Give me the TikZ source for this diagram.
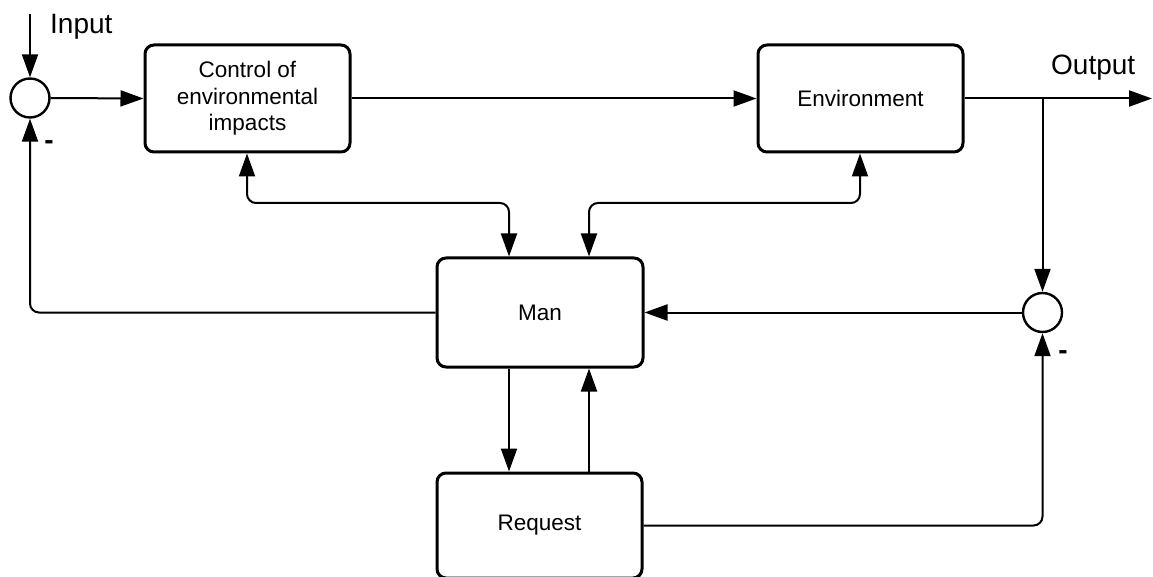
\documentclass[tikz,border=0pt]{standalone}
\usepackage{fontspec}
\setmainfont{Liberation Sans}
\usetikzlibrary{arrows.meta}
\begin{document}
\begin{tikzpicture}[x=1pt,y=-1pt,
  blk/.style={draw,line width=3pt,rounded corners=9pt,minimum width=205pt,minimum height=107pt,align=center,inner sep=0pt,font=\fontsize{22.5}{26.5}\selectfont},
  sumc/.style={draw,circle,line width=2.4pt,minimum size=39pt,inner sep=0pt},
  conn/.style={line width=2pt,rounded corners=9pt},
  arr/.style={conn,-{Triangle[length=23pt,width=16pt]}},
  biarr/.style={conn,{Triangle[length=23pt,width=16pt]}-{Triangle[length=23pt,width=16pt]}},
  lbl/.style={font=\fontsize{28}{30}\selectfont,inner sep=0pt},
  mlbl/.style={font=\bfseries\fontsize{28}{30}\selectfont,inner sep=0pt}]
\clip (0,0) rectangle (1153,577);
\fill[white] (0,0) rectangle (1153,577);
% nodes
\node[sumc] (sumL) at (30,98) {};
\node[sumc] (sumR) at (1042.5,312.5) {};
\node[blk] (ctrl) at (247.5,98.5) {Control of\\environmental\\impacts};
\node[blk] (env) at (860.5,98.5) {Environment};
\node[blk,minimum width=206pt,minimum height=109pt] (man) at (540,312.5) {Man};
\node[blk,minimum height=105pt] (req) at (539.5,525.5) {Request};
% labels
\node[lbl,anchor=base west] (input) at (50,34) {Input};
\node[lbl,anchor=base west] (output) at (1051,75) {Output};
\node[mlbl] (minusL) at (49,145) {-};
\node[mlbl] (minusR) at (1063,355) {-};
% free ends
\coordinate (inTop) at (30,14);
\coordinate (outEnd) at (1152,98.5);
\coordinate (branch) at (1042.5,98.5);
% connectors
\draw[arr] (inTop) -- (sumL.north);
\draw[arr] (sumL.east) -- (ctrl.west);
\draw[arr] (ctrl.east) -- (env.west);
\draw[arr] (env.east) -- (outEnd);
\draw[arr] (branch) -- (sumR.north);
\draw[arr] (sumR.west) -- (man.east);
\draw[arr] (man.west) -| (sumL.south);
\draw[biarr] (ctrl.south -| 247,0) |- (509,203) -- (man.north -| 509,0);
\draw[biarr] (env.south -| 860,0) |- (589,203) -- (man.north -| 589,0);
\draw[arr] (man.south -| 509,0) -- (req.north -| 509,0);
\draw[arr] (req.north -| 589,0) -- (man.south -| 589,0);
\draw[arr] (req.east) -| (sumR.south);
\end{tikzpicture}
\end{document}
